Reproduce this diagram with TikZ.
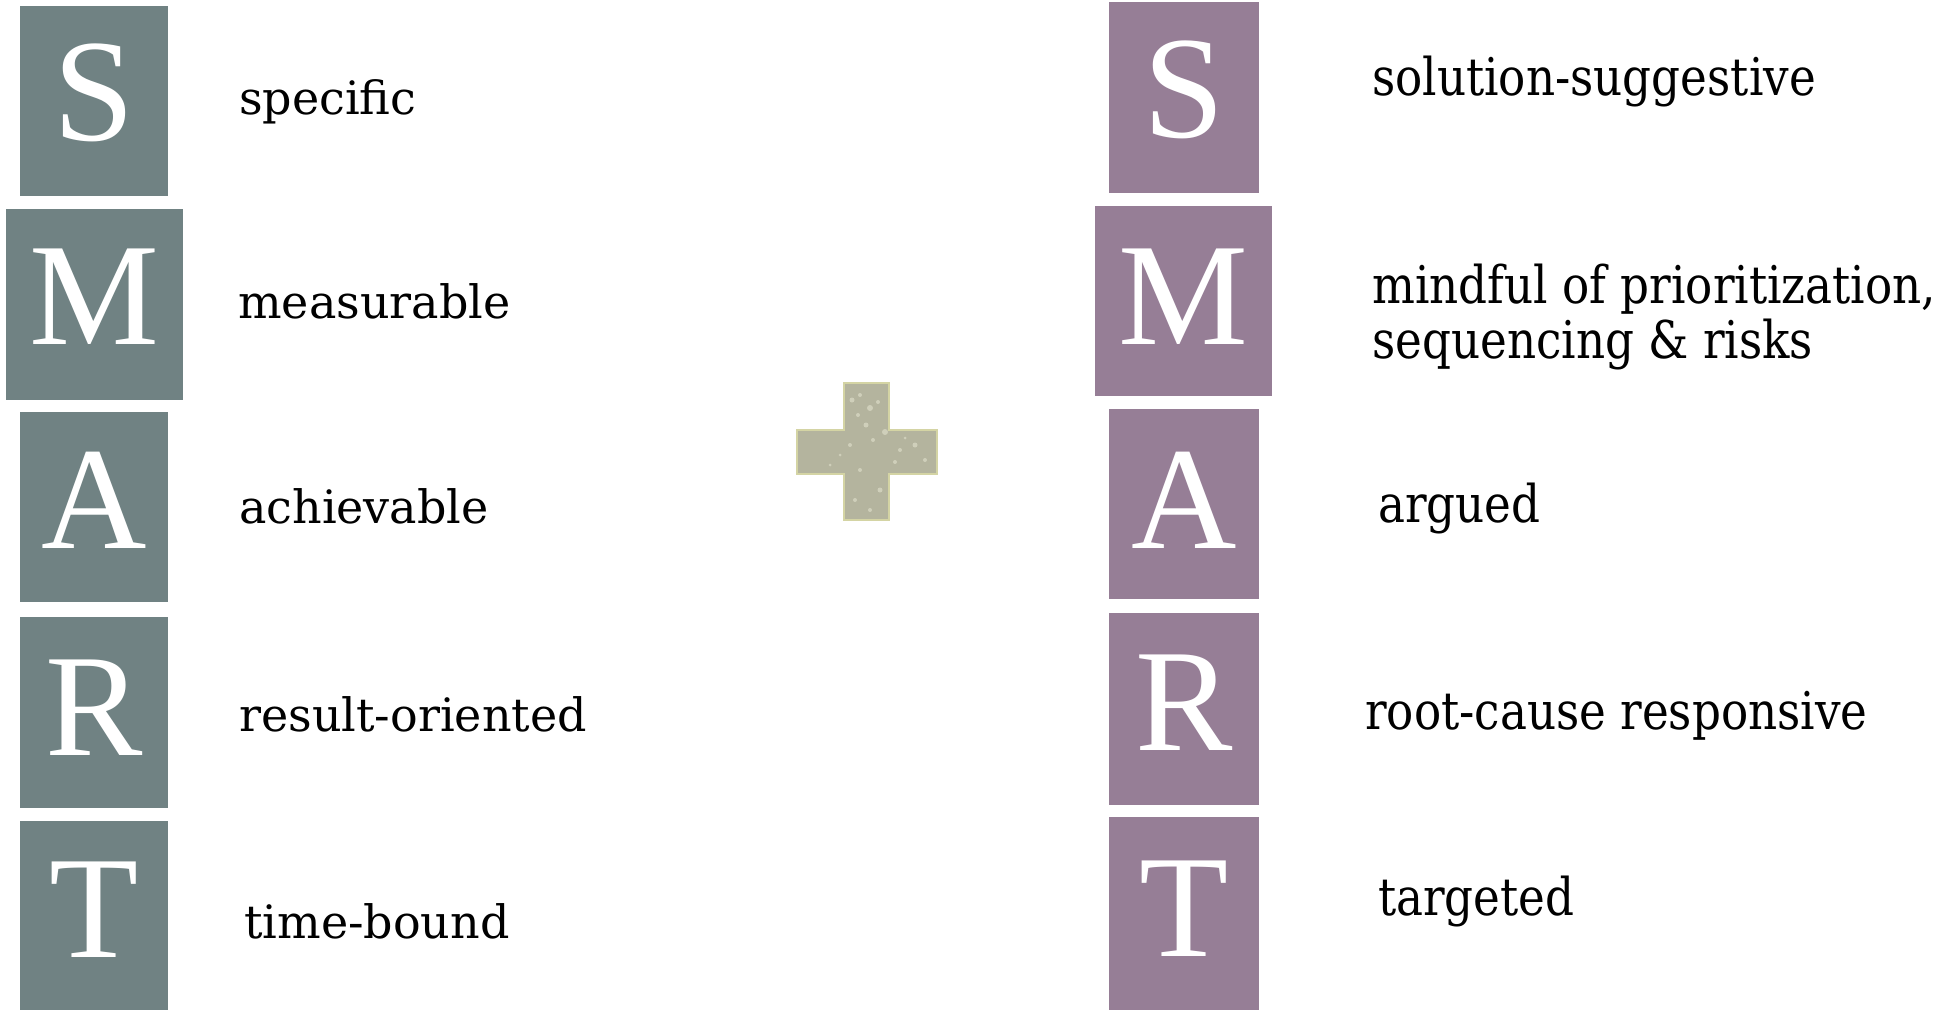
\documentclass[tikz,border=0pt]{standalone}
\usepackage{fontspec}
\setmainfont{DejaVu Serif}
\newfontfamily\letterfont{Liberation Serif}
\newfontfamily\rightfont[FakeStretch=0.87]{DejaVu Serif}
\definecolor{smartgray}{RGB}{112,130,131}
\definecolor{smartmauve}{RGB}{150,126,150}
\definecolor{plusfill}{RGB}{180,180,158}
\definecolor{plusedge}{RGB}{212,212,164}
\definecolor{plusspeck}{RGB}{225,225,205}
\tikzset{
  lbox/.style={fill=smartgray, draw=none, inner sep=0pt, minimum width=148pt, minimum height=190pt},
  rbox/.style={fill=smartmauve, draw=none, inner sep=0pt, minimum width=150pt, minimum height=191pt},
  wide/.style={minimum width=177pt},
  letter/.style={text=white, inner sep=0pt, anchor=base, font=\letterfont\fontsize{146}{146}\selectfont},
  ltext/.style={inner sep=0pt, anchor=base west, font=\fontsize{46}{55}\selectfont},
  rtext/.style={inner sep=0pt, anchor=base west, font=\rightfont\fontsize{52}{58}\selectfont}
}
\begin{document}
\begin{tikzpicture}[x=1pt,y=-1pt]
\useasboundingbox (0,0) rectangle (1954,1010);
\fill[white] (0,0) rectangle (1954,1010);
% left column
\node[lbox] (ls) at (94,101) {};
\node[lbox,wide,minimum height=191pt] (lm) at (94.5,304.5) {};
\node[lbox] (la) at (94,507) {};
\node[lbox,minimum height=191pt] (lr) at (94,712.5) {};
\node[lbox,minimum height=189pt] (lt) at (94,915.5) {};
\node[letter] (lsl) at (94,140) {S};
\node[letter] (lml) at (94.5,344) {M};
\node[letter] (lal) at (94,548) {A};
\node[letter] (lrl) at (94,755) {R};
\node[letter] (ltl) at (94,957) {T};
\node[ltext] (lst) at (239,114) {specific};
\node[ltext] (lmt) at (238,318) {measurable};
\node[ltext] (lat) at (239,523) {achievable};
\node[ltext] (lrt) at (239,731) {result-oriented};
\node[ltext] (ltt) at (244,938) {time-bound};
% plus
\fill[plusfill, draw=plusedge, line width=1.5pt]
  (844,383) -- (889,383) -- (889,430) -- (937,430) -- (937,474) -- (889,474)
  -- (889,520) -- (844,520) -- (844,474) -- (797,474) -- (797,430) -- (844,430) -- cycle;
\foreach \px/\py/\r in {852/400/2.5,860/395/2,870/408/3,858/415/2,878/402/2,866/425/2.5,885/432/3,
  873/440/2,850/445/2,900/450/2,915/445/2.5,925/460/2,860/470/2,880/490/2.5,855/500/2,870/510/2,
  895/462/2,840/455/1.5,830/465/1.5,905/438/1.5}
  \fill[plusspeck, opacity=0.6] (\px,\py) circle (\r);
% right column
\node[rbox] (rs) at (1184,97.5) {};
\node[rbox,wide,minimum height=190pt] (rm) at (1183.5,301) {};
\node[rbox,minimum height=190pt] (ra) at (1184,504) {};
\node[rbox,minimum height=192pt] (rr) at (1184,709) {};
\node[rbox,minimum height=193pt] (rt) at (1184,913.5) {};
\node[letter] (rsl) at (1184,137) {S};
\node[letter] (rml) at (1183.5,344) {M};
\node[letter] (ral) at (1184,548) {A};
\node[letter] (rrl) at (1184,750) {R};
\node[letter] (rtl) at (1184,956) {T};
\node[rtext] (rst) at (1372,95) {solution-suggestive};
\node[rtext] (rmt1) at (1372,303) {mindful of prioritization,};
\node[rtext] (rmt2) at (1372,358) {sequencing \& risks};
\node[rtext] (rat) at (1378,522) {argued};
\node[rtext] (rrt) at (1365,729) {root-cause responsive};
\node[rtext] (rtt) at (1378,915) {targeted};
\end{tikzpicture}
\end{document}
